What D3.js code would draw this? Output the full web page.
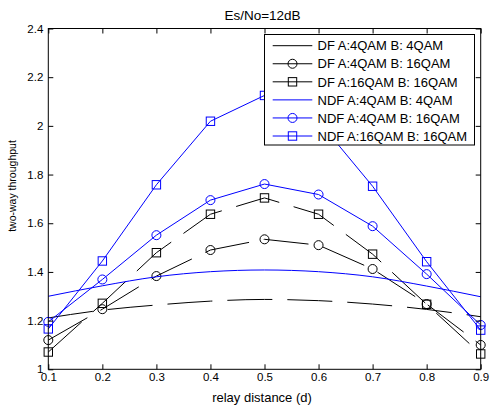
<!DOCTYPE html>
<html>
<head>
<meta charset="utf-8">
<script src="https://cdn.jsdelivr.net/npm/d3@7"></script>
<style>
  html, body { margin: 0; padding: 0; background: #fff; }
  svg { display: block; }
  text { font-family: "Liberation Sans", Arial, Helvetica, sans-serif; fill: #000; }
</style>
</head>
<body>
<svg id="chart" width="490" height="406"></svg>
<script>
// ---- data ----
const distances = [0.1, 0.2, 0.3, 0.4, 0.5, 0.6, 0.7, 0.8, 0.9];
const df4q4q   = [1.211, 1.243, 1.264, 1.280, 1.287, 1.282, 1.268, 1.246, 1.216];
const df4q16q  = [1.120, 1.247, 1.383, 1.490, 1.534, 1.510, 1.412, 1.268, 1.100];
const df16q16q = [1.071, 1.271, 1.479, 1.637, 1.704, 1.637, 1.473, 1.267, 1.063];
const ndf4q4q   = [1.300, 1.343, 1.380, 1.401, 1.408, 1.401, 1.380, 1.342, 1.298];
const ndf4q16q  = [1.195, 1.369, 1.551, 1.695, 1.761, 1.718, 1.588, 1.391, 1.182];
const ndf16q16q = [1.166, 1.445, 1.758, 2.019, 2.125, 2.020, 1.752, 1.442, 1.161];
const seriesNames = ["DF A:4QAM B: 4QAM", "DF A:4QAM B: 16QAM", "DF A:16QAM B: 16QAM",
                     "NDF A:4QAM B: 4QAM", "NDF A:4QAM B: 16QAM", "NDF A:16QAM B: 16QAM"];
const xTicks = [0.1, 0.2, 0.3, 0.4, 0.5, 0.6, 0.7, 0.8, 0.9];
const yTicks = [1, 1.2, 1.4, 1.6, 1.8, 2, 2.2, 2.4];
const titleText = "Es/No=12dB";
const xLabel = "relay distance (d)";
const yLabel = "two-way throughput";

const series = [
  { name: seriesNames[0], values: df4q4q,    color: "#000", marker: "none",   dashed: true,  smooth: true },
  { name: seriesNames[1], values: df4q16q,   color: "#000", marker: "circle", dashed: true,  smooth: false },
  { name: seriesNames[2], values: df16q16q,  color: "#000", marker: "square", dashed: true,  smooth: false },
  { name: seriesNames[3], values: ndf4q4q,   color: "#0000ff", marker: "none",   dashed: false, smooth: true },
  { name: seriesNames[4], values: ndf4q16q,  color: "#0000ff", marker: "circle", dashed: false, smooth: false },
  { name: seriesNames[5], values: ndf16q16q, color: "#0000ff", marker: "square", dashed: false, smooth: false }
];

// ---- layout ----
const L = 48.3, R = 480.7, T = 28.5, B = 369.3;
const svg = d3.select("#chart");
const x = d3.scaleLinear().domain([0.1, 0.9]).range([L, R]);
const y = d3.scaleLinear().domain([1, 2.4]).range([B, T]);

// series
const g = svg.append("g");
series.forEach(s => {
  const pts = distances.map((d, i) => [d, s.values[i]]);
  const line = d3.line().x(p => x(p[0])).y(p => y(p[1]))
    .curve(s.smooth ? d3.curveMonotoneX : d3.curveLinear);
  g.append("path").attr("d", line(pts))
    .attr("fill", "none").attr("stroke", s.color).attr("stroke-width", 1)
    .attr("stroke-dasharray", s.dashed ? "45,15" : null);
  drawMarkers(g, pts.map(p => [x(p[0]), y(p[1])]), s);
});

function drawMarkers(sel, pts, s) {
  if (s.marker === "circle") {
    sel.selectAll(null).data(pts).enter().append("circle")
      .attr("cx", p => p[0]).attr("cy", p => p[1]).attr("r", 4.5)
      .attr("fill", "none").attr("stroke", s.color).attr("stroke-width", 1);
  } else if (s.marker === "square") {
    const h = 4.2;
    sel.selectAll(null).data(pts).enter().append("rect")
      .attr("x", p => p[0] - h).attr("y", p => p[1] - h)
      .attr("width", 2 * h).attr("height", 2 * h)
      .attr("fill", "none").attr("stroke", s.color).attr("stroke-width", 1);
  }
}

// axes (box with inward ticks)
const tickLen = 5;
const axB = svg.append("g").attr("transform", `translate(0,${B})`)
  .call(d3.axisBottom(x).tickValues(xTicks).tickSizeInner(-tickLen).tickSizeOuter(0).tickPadding(4)
    .tickFormat(d3.format("")));
const axT = svg.append("g").attr("transform", `translate(0,${T})`)
  .call(d3.axisTop(x).tickValues(xTicks).tickSizeInner(-tickLen).tickSizeOuter(0).tickFormat(""));
const axL = svg.append("g").attr("transform", `translate(${L},0)`)
  .call(d3.axisLeft(y).tickValues(yTicks).tickSizeInner(-tickLen).tickSizeOuter(0).tickPadding(5)
    .tickFormat(d3.format("")));
const axR = svg.append("g").attr("transform", `translate(${R},0)`)
  .call(d3.axisRight(y).tickValues(yTicks).tickSizeInner(-tickLen).tickSizeOuter(0).tickFormat(""));
[axB, axT, axL, axR].forEach(a => {
  a.select(".domain").remove();
  a.selectAll("line").attr("stroke", "#000");
  a.selectAll("text").attr("font-size", 11.5).attr("font-family", null).attr("fill", "#000");
});
axB.selectAll("text").attr("dy", "0.71em");
svg.append("rect").attr("x", L).attr("y", T).attr("width", R - L).attr("height", B - T)
  .attr("fill", "none").attr("stroke", "#000").attr("stroke-width", 1);

// labels
svg.append("text").attr("x", 262.5).attr("y", 19.5).attr("text-anchor", "middle")
  .attr("font-size", 13.5).text(titleText);
svg.append("text").attr("x", 262).attr("y", 402).attr("text-anchor", "middle")
  .attr("font-size", 13).text(xLabel);
svg.append("text").attr("transform", "translate(16,186) rotate(-90)").attr("text-anchor", "middle")
  .attr("font-size", 10.5).text(yLabel);

// legend
const lg = svg.append("g");
lg.append("rect").attr("x", 264.5).attr("y", 34.5).attr("width", 210).attr("height", 110.5)
  .attr("fill", "#fff").attr("stroke", "#000").attr("stroke-width", 1);
series.forEach((s, i) => {
  const cy = 45.7 + i * 18.06;
  lg.append("line").attr("x1", 272.7).attr("x2", 312.3).attr("y1", cy).attr("y2", cy)
    .attr("stroke", s.color).attr("stroke-width", 1);
  drawMarkers(lg, [[292.5, cy]], s);
  lg.append("text").attr("x", 317.5).attr("y", cy).attr("dy", "0.36em")
    .attr("font-size", 13).text(s.name);
});
</script>
</body>
</html>
